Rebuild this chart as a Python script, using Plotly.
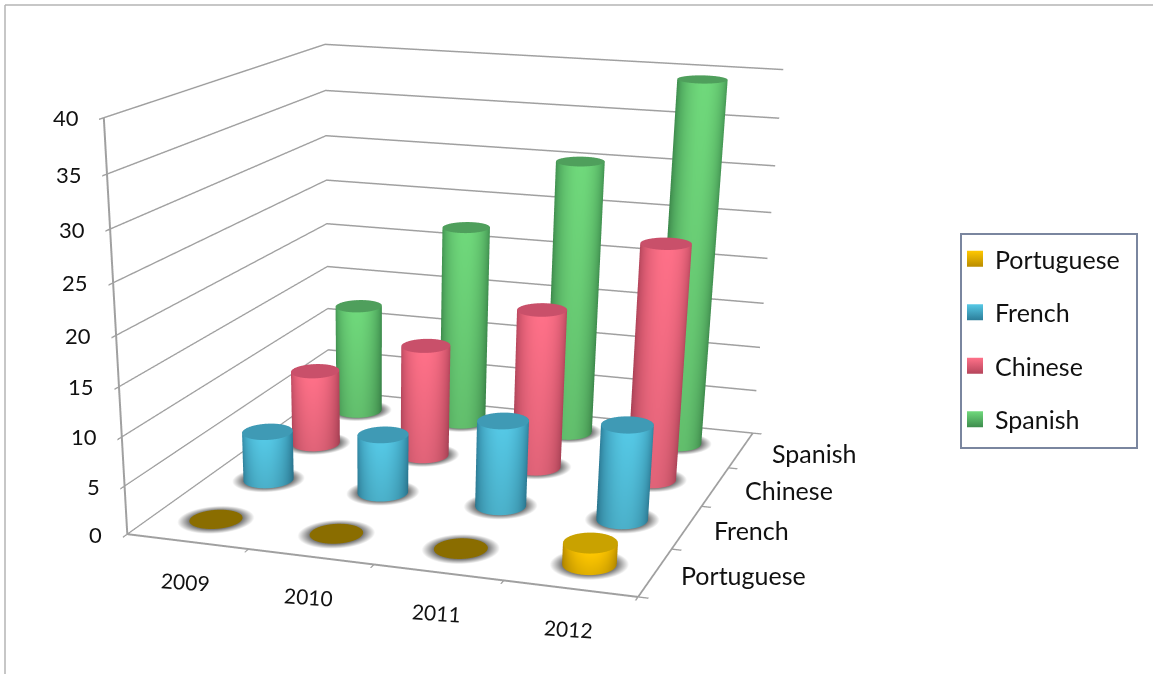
import numpy as np
import plotly.graph_objects as go

years = ["2009", "2010", "2011", "2012"]
languages = ["Portuguese", "French", "Chinese", "Spanish"]
portuguese = [0, 0, 0, 2.2]
french = [5.3, 6.3, 9.1, 10]
chinese = [8.3, 12.3, 17.3, 25.2]
spanish = [12.4, 22.3, 30.3, 39.5]
z_ticks = [0, 5, 10, 15, 20, 25, 30, 35, 40]

# Camera solved against the reference's box corners. A weak perspective needs a
# tall scene viewport, so the figure runs past the bottom of the window.
W = 1153
FIG_H = 1800
eye = (1.27633, -4.16241, 0.97967)
center = (0.12031, -0.55828, -1.05649)
up = (-0.15748, 0.44697, 0.88058)
ay, az = 1.09736, 0.75689
dom_x = [0, 860 / W]

px = lambda v: v / W
py = lambda v: 1 - v / FIG_H

palette = {
    "Portuguese": ("#ffc800", "#b98c00", "#c9a200", "#8a6d00"),
    "French": ("#56c9e6", "#2c7d99", "#3f9ab5", "#3f9ab5"),
    "Chinese": ("#ff7189", "#b5455b", "#c9506a", "#c9506a"),
    "Spanish": ("#70d97c", "#3d8c4d", "#4f9f5c", "#4f9f5c"),
}


def hx(c):
    return np.array([int(c[i:i + 2], 16) for i in (1, 3, 5)], float)


def rgb(a):
    return "rgb(%d,%d,%d)" % tuple(np.clip(a, 0, 255))


N = 48
RX = 0.2
RY = 1.2 * RX / ay
view_az = np.arctan2(eye[1] / ay, eye[0])
th = np.linspace(0, 2 * np.pi, N, endpoint=False)


def cell_center(i, j):
    return i + 0.5 - 0.006 * i * j, j + 0.5


def cylinder(i, j, v, name):
    light, dark, cap, zero = [hx(c) for c in palette[name]]
    cx_, cy_ = cell_center(i, j)
    rx_, ry_ = cx_ + RX * np.cos(th), cy_ + RY * np.sin(th)
    X, Y, Z, C, I, J, K = [], [], [], [], [], [], []
    top = max(v, 0.06)
    if v > 0:
        t = np.clip(np.cos(th - view_az), 0, 1) ** 1.3
        for zz, m in ((0, 0.88), (top, 1.0)):
            for a in range(N):
                X.append(rx_[a]); Y.append(ry_[a]); Z.append(zz)
                C.append(rgb((dark + (light - dark) * t[a]) * m))
        for a in range(N):
            b = (a + 1) % N
            I += [a, b]; J += [b, N + b]; K += [N + a, N + a]
    base = len(X)
    col = rgb(cap if v > 0 else zero)
    X.append(cx_); Y.append(cy_); Z.append(top); C.append(col)
    for a in range(N):
        X.append(rx_[a]); Y.append(ry_[a]); Z.append(top); C.append(col)
    for a in range(N):
        I.append(base); J.append(base + 1 + a); K.append(base + 1 + (a + 1) % N)
    return X, Y, Z, C, I, J, K


def shadow(i, j):
    cx_, cy_ = cell_center(i, j)
    X, Y, Z, C, I, J, K = [cx_], [cy_], [0.02], ["rgb(120,120,120)"], [], [], []
    for s, col in ((1.0, "rgb(120,120,120)"), (1.45, "rgb(255,255,255)")):
        for a in range(N):
            X.append(cx_ + s * RX * np.cos(th[a])); Y.append(cy_ + s * RY * np.sin(th[a]))
            Z.append(0.02); C.append(col)
    for a in range(N):
        b = (a + 1) % N
        I.append(0); J.append(1 + a); K.append(1 + b)
        I += [1 + a, 1 + b]; J += [1 + b, 1 + N + b]; K += [1 + N + a, 1 + N + a]
    return X, Y, Z, C, I, J, K


flat = dict(ambient=1, diffuse=0, specular=0, roughness=1, fresnel=0)
fig = go.Figure()
series = [portuguese, french, chinese, spanish]
for j, vals in enumerate(series):
    for i, v in enumerate(vals):
        X, Y, Z, C, I_, J_, K_ = shadow(i, j)
        fig.add_trace(go.Mesh3d(x=X, y=Y, z=Z, i=I_, j=J_, k=K_, vertexcolor=C, lighting=flat,
                                showlegend=False, hoverinfo="skip"))
for j, (name, vals) in enumerate(zip(languages, series)):
    for i, v in enumerate(vals):
        X, Y, Z, C, I_, J_, K_ = cylinder(i, j, v, name)
        fig.add_trace(go.Mesh3d(x=X, y=Y, z=Z, i=I_, j=J_, k=K_, vertexcolor=C, lighting=flat,
                                name=name, showlegend=False, hoverinfo="skip"))
for name in languages:
    fig.add_trace(go.Scatter(x=[None], y=[None], mode="markers", name=name, legendgroup=name,
                             marker=dict(symbol="square", size=16, color=palette[name][0],
                                         gradient=dict(type="vertical", color=palette[name][1]),
                                         line=dict(width=0))))

axis_common = dict(showbackground=False, showspikes=False, zeroline=False, title=dict(text=""),
                   showticklabels=False, linecolor="#a0a0a0", linewidth=4, showline=True,
                   ticks="outside", ticklen=8, tickcolor="#a0a0a0", tickwidth=3)
anns = []
for i, y_ in enumerate(years):
    anns.append(dict(x=i + .5, y=0, z=0, text=y_, showarrow=False, xshift=-2, yshift=-40, textangle=4,
                     font=dict(size=21, color="#111", family="Lato")))
yl_dx = [24, 25, 28, 29]
for j, l in enumerate(languages):
    anns.append(dict(x=4, y=j + .5, z=0, text=l, showarrow=False, xanchor="left", xshift=yl_dx[j], yshift=-3,
                     font=dict(size=25, color="#111", family="Lato")))
for v in z_ticks:
    anns.append(dict(x=0, y=0, z=v, text=str(v), showarrow=False, xanchor="right", xshift=-23,
                     font=dict(size=22, color="#111", family="Lato")))

fig.update_layout(
    width=W, height=FIG_H, margin=dict(l=0, r=0, t=0, b=0), paper_bgcolor="white", plot_bgcolor="white",
    font=dict(family="Lato", color="#111"),
    xaxis=dict(visible=False), yaxis=dict(visible=False),
    scene=dict(
        domain=dict(x=dom_x, y=[0, 1]),
        xaxis=dict(range=[0, 4], tickvals=[0, 1, 2, 3, 4], showgrid=False, **axis_common),
        yaxis=dict(range=[0, 4], tickvals=[0, 1, 2, 3, 4], showgrid=False, **axis_common),
        zaxis=dict(range=[0, 40], tickvals=z_ticks, showgrid=True, gridcolor="#a0a0a0", gridwidth=3, **axis_common),
        aspectmode="manual", aspectratio=dict(x=1, y=ay, z=az),
        camera=dict(eye=dict(x=eye[0], y=eye[1], z=eye[2]),
                    center=dict(x=center[0], y=center[1], z=center[2]),
                    up=dict(x=up[0], y=up[1], z=up[2])),
        annotations=anns),
    legend=dict(x=px(955), y=py(236), xanchor="left", yanchor="top", borderwidth=0, bgcolor="rgba(0,0,0,0)",
                font=dict(size=25, family="Lato", color="#111"), tracegroupgap=18, traceorder="grouped"),
    shapes=[
        dict(type="line", xref="paper", yref="paper", x0=px(5), x1=px(5), y0=0, y1=py(5),
             line=dict(color="#b5b5b5", width=1.5)),
        dict(type="line", xref="paper", yref="paper", x0=px(5), x1=1, y0=py(5), y1=py(5),
             line=dict(color="#b5b5b5", width=1.5)),
        dict(type="rect", xref="paper", yref="paper", x0=px(961), x1=px(1137), y0=py(448), y1=py(234),
             line=dict(color="#7a869f", width=2)),
    ],
)
fig.write_html("out.html", config=dict(displayModeBar=False),
               post_script="document.body.style.margin='0';document.documentElement.style.overflow='hidden';document.body.style.overflow='hidden';")
